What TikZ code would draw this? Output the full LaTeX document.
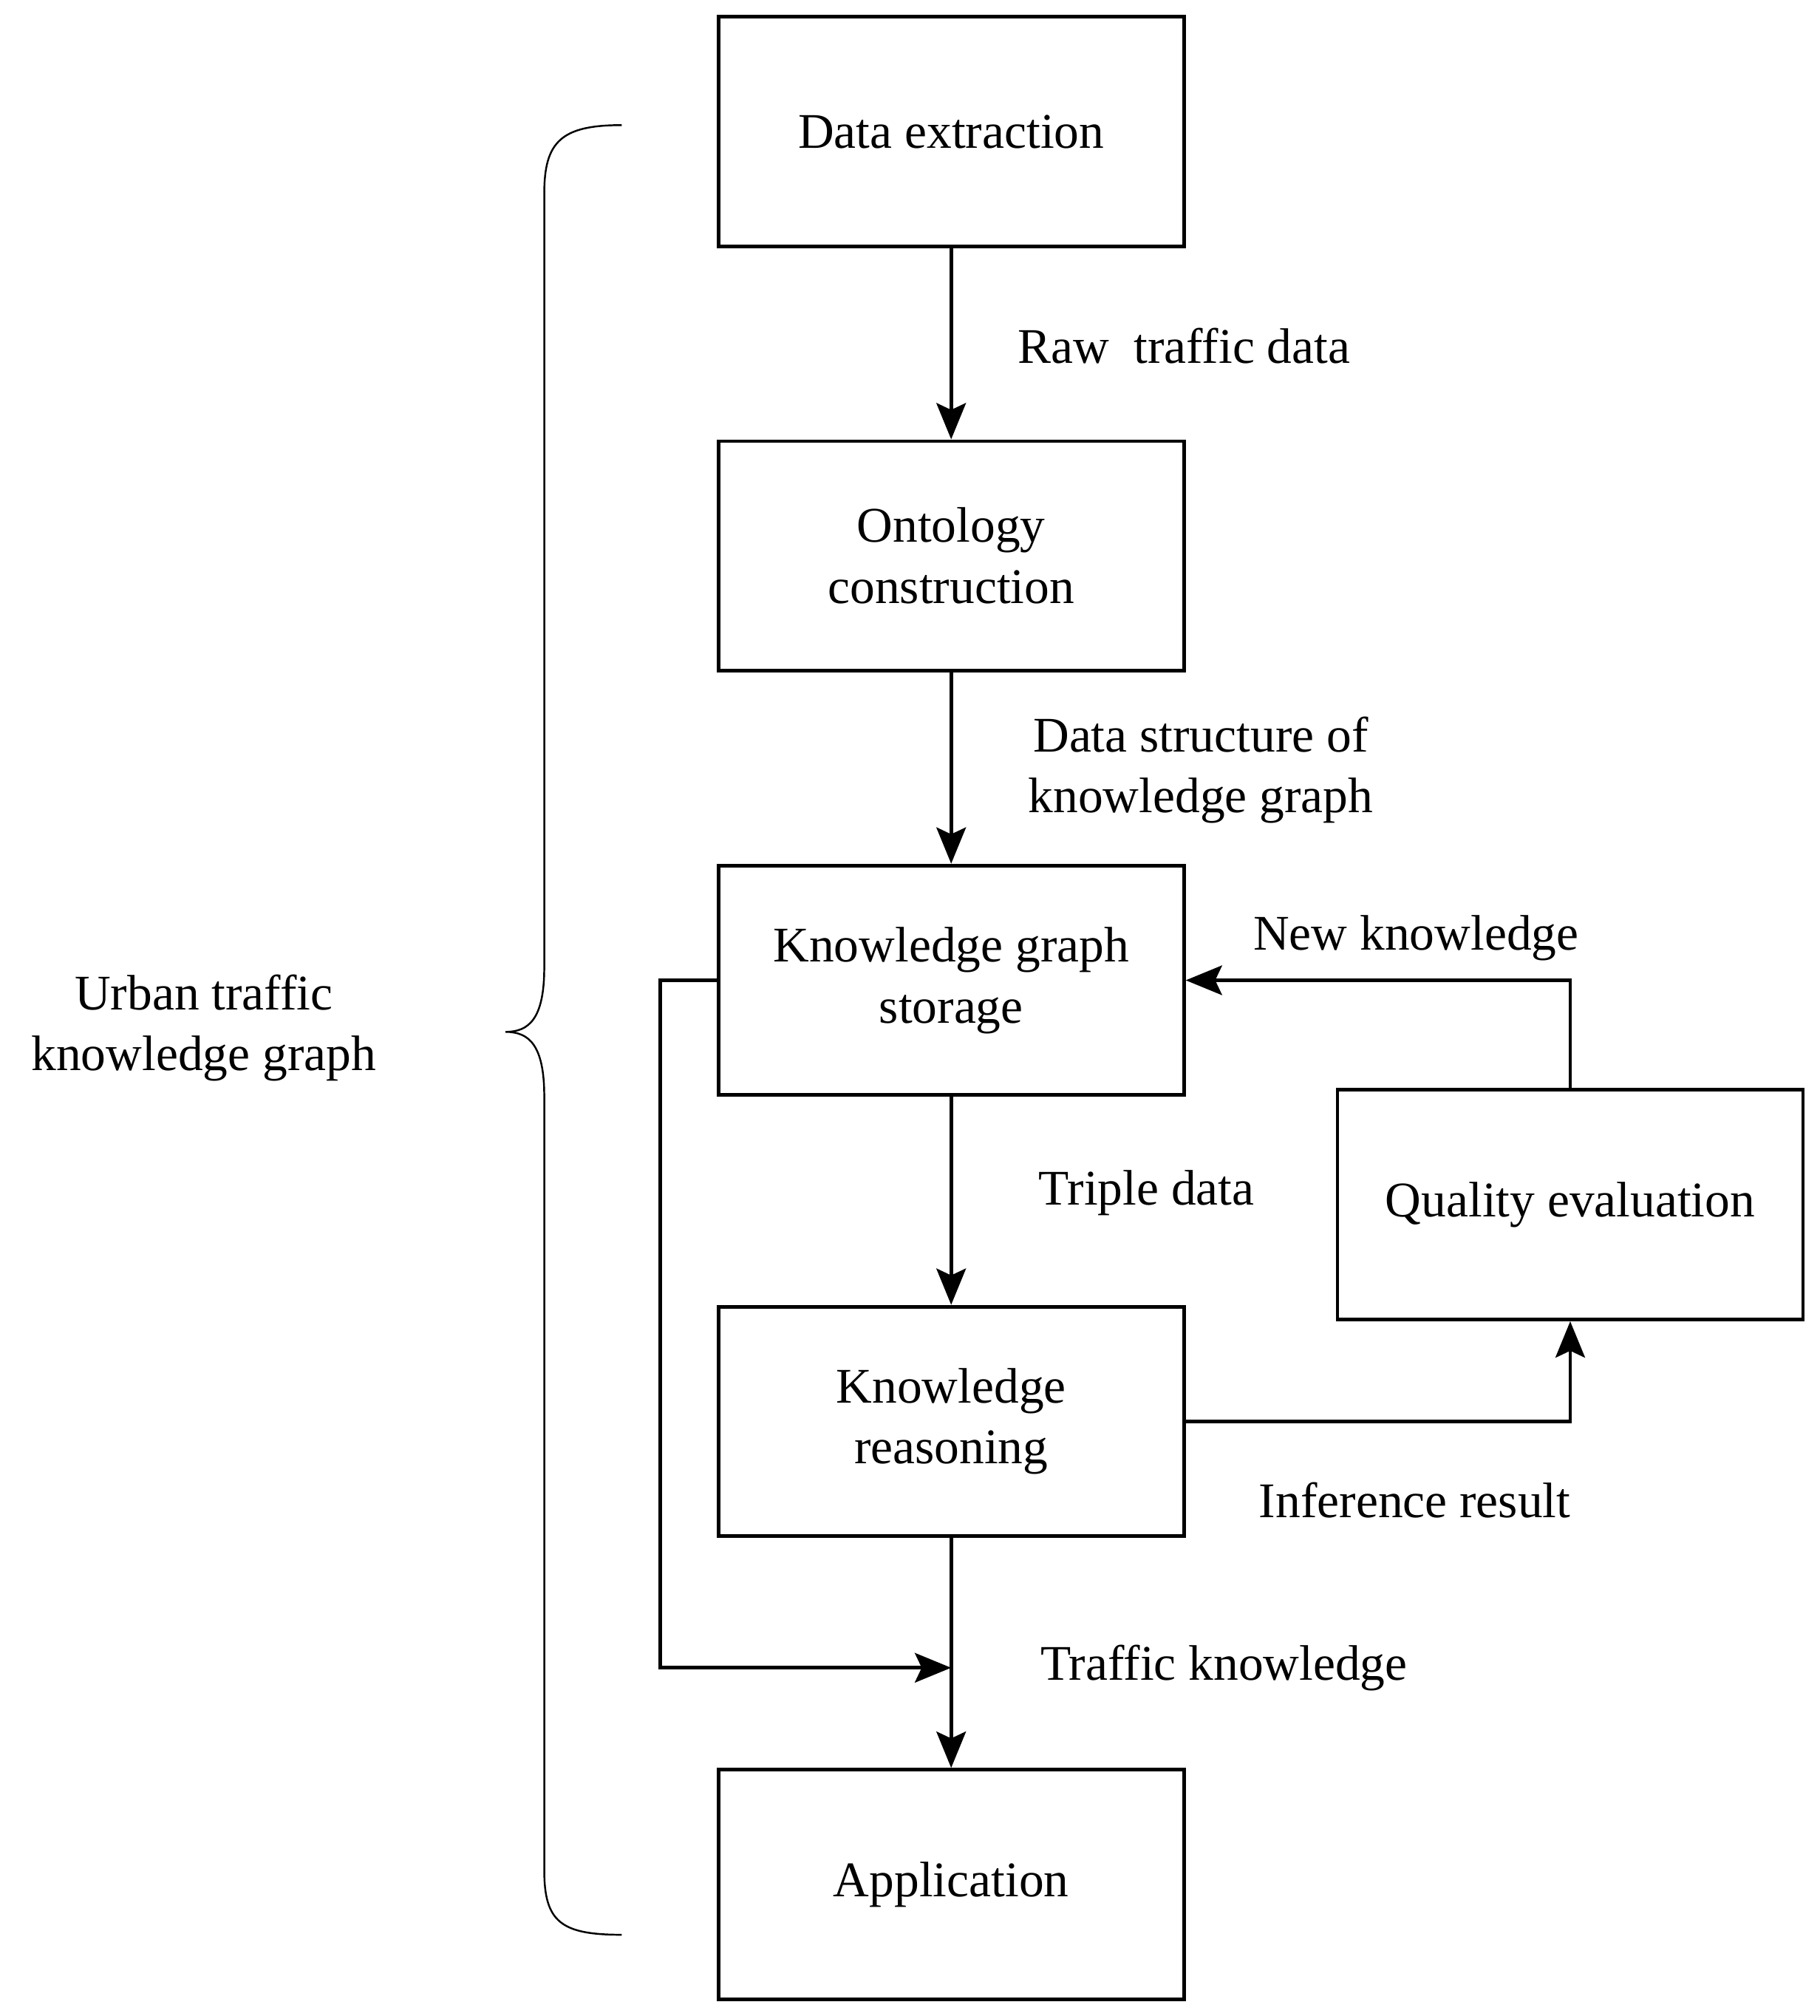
\documentclass[tikz,border=0pt]{standalone}
\usepackage{fontspec}
\setmainfont{Liberation Serif}
\usetikzlibrary{arrows.meta}
\begin{document}
\begin{tikzpicture}[x=0.02cm, y=-0.02cm, font=\fontsize{22}{27}\selectfont,
  box_style/.style={draw=black, line width=1.6pt, minimum width=7.22cm, minimum height=3.56cm, align=center, inner sep=0pt},
  edge_style/.style={draw=black, line width=1.6pt, -{Stealth[length=16pt,width=13pt,inset=3pt]}},
  label_style/.style={align=center, inner sep=0pt}]
  \useasboundingbox (0,0) rectangle (1411,1563);
  \draw
    (737.5, 102) node[box_style] (extract) {Data extraction}
    (737.5, 431) node[box_style] (onto) {Ontology\\construction}
    (737.5, 760) node[box_style] (store) {Knowledge graph\\storage}
    (737.5, 1102) node[box_style] (reason) {Knowledge\\reasoning}
    (737.5, 1461) node[box_style] (app) {Application}
    (1217.5, 934) node[box_style] (quality) {Quality evaluation};
  \coordinate (merge) at (737.5, 1293);
  \draw[edge_style] (extract) -- (onto);
  \draw[edge_style] (onto) -- (store);
  \draw[edge_style] (store) -- (reason);
  \draw[edge_style] (reason) -- (app);
  \draw[edge_style] (store.west |- 0,760) -- (512,760) -- (512,1293) -- (merge);
  \draw[edge_style] (reason.east) -- (reason.east -| quality.south) -- (quality.south);
  \draw[edge_style] (quality.north) -- (quality.north |- store.east) -- (store.east);
  % labels
  \node[label_style] at (918, 268) {Raw\ \ traffic data};
  \node[label_style] at (931, 597) {Data structure of\\knowledge graph};
  \node[label_style] at (1098, 727) {New knowledge};
  \node[label_style] at (889, 925) {Triple data};
  \node[label_style] at (1097, 1163) {Inference result};
  \node[label_style] at (949, 1293) {Traffic knowledge};
  \node[label_style] at (158, 797) {Urban traffic\\knowledge graph};
  % brace
  \draw[line width=0.8pt] (482,97) .. controls (435,97) and (422,110) .. (422,150) -- (422,750)
    .. controls (422,790) and (410,800) .. (392,800) .. controls (410,800) and (422,810) .. (422,850)
    -- (422,1450) .. controls (422,1490) and (435,1500) .. (482,1500);
\end{tikzpicture}
\end{document}
